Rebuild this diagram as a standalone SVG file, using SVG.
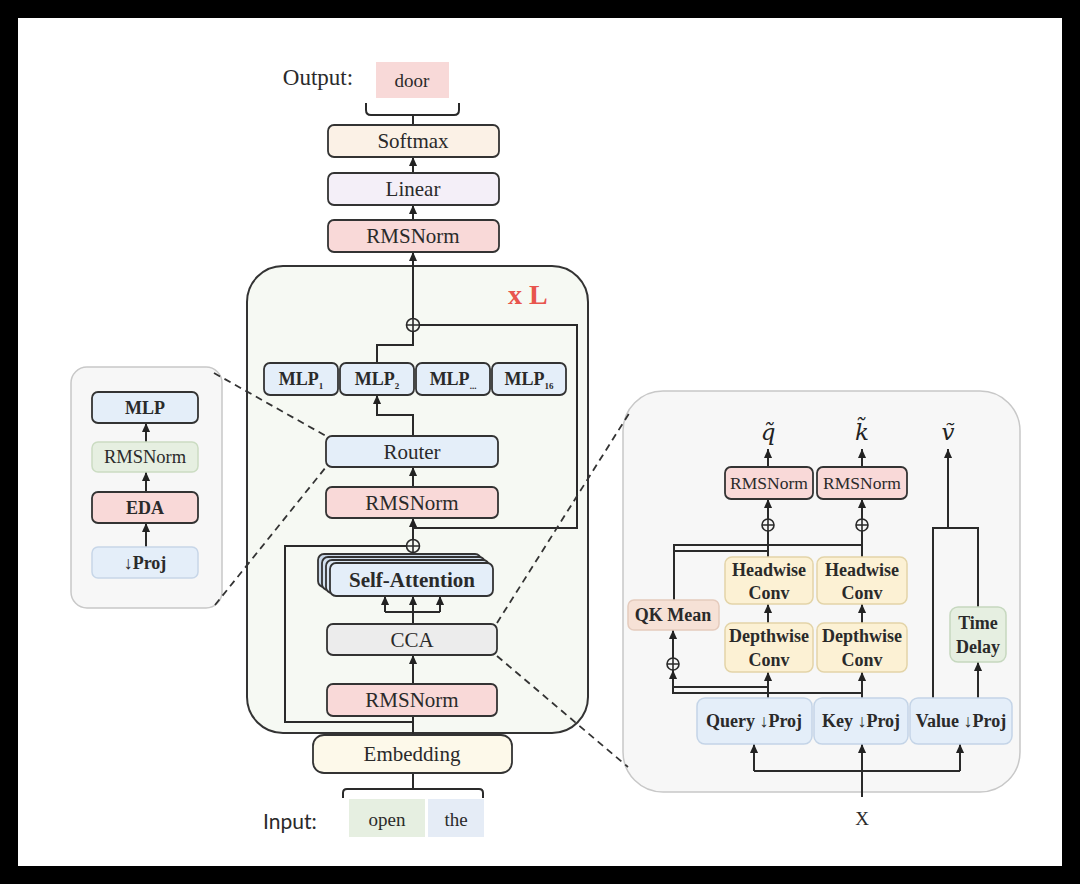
<svg xmlns="http://www.w3.org/2000/svg" width="1080" height="884" viewBox="0 0 1080 884">
<defs>
<marker id="ah" viewBox="0 0 10 10" refX="10" refY="5" markerWidth="9" markerHeight="9" markerUnits="userSpaceOnUse" orient="auto">
<path d="M0,0.5 L10,5 L0,9.5 z" fill="#222"/>
</marker>
<style>
.t{font-family:"Liberation Serif",serif;fill:#2a2a2a;text-anchor:middle;dominant-baseline:central}
.b{font-weight:bold}
.box{stroke:#333;stroke-width:1.8}
.lbox{stroke-width:1.5}
.ln{fill:none;stroke:#2a2a2a;stroke-width:2}
.arr{fill:none;stroke:#2a2a2a;stroke-width:2;marker-end:url(#ah)}
.dash{fill:none;stroke:#333;stroke-width:1.8;stroke-dasharray:7 5}
.plus{fill:none;stroke:#2a2a2a;stroke-width:1.6}
.pink{fill:#f9d9d8}
.blue{fill:#e4eef9}
.green{fill:#e6efe1}
.yel{fill:#fcf1d4;stroke:#e3d4a8}
.math{font-family:"DejaVu Serif",serif;font-style:italic;font-size:23px;fill:#222;text-anchor:middle;dominant-baseline:central}
</style>
</defs>
<rect x="0" y="0" width="1080" height="884" fill="#000"/>
<rect x="18" y="18" width="1044" height="848" fill="#fff"/>

<!-- containers -->
<g id="block">
<rect x="247" y="266" width="341" height="467" rx="36" fill="#f6f9f3" stroke="#333" stroke-width="2"/>
<text x="508" y="294" font-family="Liberation Serif,serif" font-weight="bold" font-size="28" fill="#e8554d" dominant-baseline="central">x L</text>
</g>
<g id="left-panel">
<rect x="71" y="367" width="151" height="241" rx="16" fill="#f7f7f7" stroke="#c8c8c8" stroke-width="1.5"/>
</g>
<g id="right-panel">
<rect x="623" y="391" width="397" height="401" rx="40" fill="#f7f7f7" stroke="#c8c8c8" stroke-width="1.5"/>
</g>

<g id="connectors">
<path class="ln" d="M366,103 V110 Q366,115 371,115 H454 Q459,115 459,110 V103 M413,115 V125"/>
<path class="arr" d="M413,173 V157"/>
<path class="arr" d="M413,220 V205"/>
<path class="arr" d="M413,318 V252"/>
<path class="ln" d="M420,325 H577 V528 H413"/>
<path class="ln" d="M413,332 V345 H377 V363"/>
<path class="arr" d="M413,436 V415 H377 V395"/>
<path class="arr" d="M413,487 V467"/>
<path class="arr" d="M413,539 V518"/>
<path class="ln" d="M406,546 H285 V722 H413"/>
<path class="ln" d="M413,563 V553"/>
<path class="ln" d="M413,624 V612 M385,612 H440"/>
<path class="arr" d="M385,612 V596"/>
<path class="arr" d="M413,612 V596"/>
<path class="arr" d="M440,612 V596"/>
<path class="arr" d="M413,684 V655"/>
<path class="ln" d="M413,735 V716"/>
<path class="ln" d="M343,798 V793 Q343,789 347,789 H479 Q483,789 483,793 V798 M413,789 V773"/>
<!-- left panel -->
<path class="arr" d="M146,442 V423"/>
<path class="arr" d="M146,492 V472"/>
<path class="arr" d="M146,547 V523"/>
<!-- right panel -->
<path class="arr" d="M768,467 V449"/>
<path class="arr" d="M862,467 V449"/>
<path class="arr" d="M948,528 V449"/>
<path class="arr" d="M768,519 V499"/>
<path class="arr" d="M862,519 V499"/>
<path class="ln" d="M768,531 V557 M862,531 V557"/>
<path class="ln" d="M862,545 H674 V600 M768,551 H674"/>
<path class="arr" d="M768,623 V604"/>
<path class="arr" d="M862,623 V604"/>
<path class="arr" d="M768,698 V672"/>
<path class="arr" d="M862,698 V672"/>
<path class="arr" d="M673,658 V630"/>
<path class="arr" d="M862,693 H673 V670"/>
<path class="ln" d="M768,687 H673"/>
<path class="arr" d="M978,698 V662"/>
<path class="ln" d="M933,698 V528 H978 V607"/>
<path class="arr" d="M862,797 V744"/>
<path class="ln" d="M754,771 H960"/>
<path class="arr" d="M754,771 V744"/>
<path class="arr" d="M960,771 V744"/>
</g>

<!-- top output -->
<g id="output">
<text class="t" x="318" y="77" font-size="23">Output:</text>
<rect x="376" y="62" width="73" height="36" fill="#f8d9d8"/>
<text class="t" x="412" y="80" font-size="19">door</text>
</g>
<g id="softmax"><rect class="box" x="328" y="125" width="171" height="32" rx="6" fill="#fbf1e6"/><text class="t" x="413" y="141" font-size="21">Softmax</text></g>
<g id="linear"><rect class="box" x="328" y="173" width="171" height="32" rx="6" fill="#f4eff8"/><text class="t" x="413" y="189" font-size="21">Linear</text></g>
<g id="rmsnorm-top"><rect class="box pink" x="328" y="220" width="171" height="32" rx="6"/><text class="t" x="413" y="236" font-size="21">RMSNorm</text></g>

<g id="plus1"><circle class="plus" cx="413" cy="325" r="6.5" fill="#f6f9f3"/><path class="plus" d="M406.5,325 H419.5 M413,318.5 V331.5"/></g>
<g id="plus2"><circle class="plus" cx="413" cy="546" r="6.5"/><path class="plus" d="M406.5,546 H419.5 M413,539.5 V552.5"/></g>

<g id="mlp1"><rect class="box blue" x="264" y="363" width="74" height="32" rx="6"/>
<text class="t b" x="301" y="379" font-size="18">MLP<tspan dy="7" font-size="9">1</tspan></text></g>
<g id="mlp2"><rect class="box blue" x="340" y="363" width="74" height="32" rx="6"/>
<text class="t b" x="377" y="379" font-size="18">MLP<tspan dy="7" font-size="9">2</tspan></text></g>
<g id="mlp3"><rect class="box blue" x="416" y="363" width="74" height="32" rx="6"/>
<text class="t b" x="453" y="379" font-size="18">MLP<tspan dy="7" font-size="9">...</tspan></text></g>
<g id="mlp16"><rect class="box blue" x="492" y="363" width="74" height="32" rx="6"/>
<text class="t b" x="529" y="379" font-size="18">MLP<tspan dy="7" font-size="9">16</tspan></text></g>
<g id="router"><rect class="box blue" x="326" y="436" width="172" height="31" rx="6"/><text class="t" x="412" y="452" font-size="21">Router</text></g>
<g id="rmsnorm-mid"><rect class="box pink" x="326" y="487" width="172" height="31" rx="6"/><text class="t" x="412" y="503" font-size="21">RMSNorm</text></g>
<g id="self-attention">
<rect class="box" x="318" y="554" width="163" height="33" rx="6" fill="#c9d7e7"/>
<rect class="box" x="322" y="557" width="163" height="33" rx="6" fill="#d3e0ee"/>
<rect class="box" x="326" y="560" width="163" height="33" rx="6" fill="#dbe6f3"/>
<rect class="box blue" x="330" y="563" width="163" height="33" rx="6"/>
<text class="t b" x="412" y="580" font-size="21">Self-Attention</text>
</g>
<g id="cca"><rect class="box" x="327" y="624" width="170" height="31" rx="6" fill="#ececec"/><text class="t" x="412" y="640" font-size="21">CCA</text></g>
<g id="rmsnorm-low"><rect class="box pink" x="327" y="684" width="170" height="32" rx="6"/><text class="t" x="412" y="700" font-size="21">RMSNorm</text></g>
<g id="embedding"><rect class="box" x="313" y="735" width="199" height="38" rx="11" fill="#fdf9ea"/><text class="t" x="412" y="754" font-size="21">Embedding</text></g>

<g id="input">
<text x="263" y="820" font-family="Lato,'Open Sans',sans-serif" font-size="21" fill="#2a2a2a" dominant-baseline="central">Input:</text>
<rect x="349" y="799" width="76" height="38" fill="#e6efe1"/>
<text class="t" x="387" y="819" font-size="19">open</text>
<rect x="428" y="799" width="56" height="38" fill="#e5ecf6"/>
<text class="t" x="456" y="819" font-size="19">the</text>
</g>

<!-- left panel nodes -->
<g id="lp-mlp"><rect class="box blue" x="92" y="392" width="106" height="31" rx="6"/>
<text class="t b" x="145" y="408" font-size="18">MLP</text></g>
<g id="lp-rmsnorm"><rect class="lbox green" x="92" y="442" width="106" height="30" rx="6" stroke="#cbdcc2"/>
<text class="t" x="145" y="457" font-size="18.5">RMSNorm</text></g>
<g id="lp-eda"><rect class="box pink" x="92" y="492" width="106" height="31" rx="6"/>
<text class="t b" x="145" y="508" font-size="18">EDA</text></g>
<g id="lp-proj"><rect class="lbox blue" x="92" y="547" width="106" height="31" rx="6" stroke="#c7d6e8"/>
<text class="t b" x="145" y="563" font-size="18">↓Proj</text></g>

<!-- right panel nodes -->
<g id="rp-outputs">
<text class="math" x="768" y="432">q̃</text>
<text class="math" x="862" y="432">k̃</text>
<text class="math" x="948" y="432">ṽ</text>
</g>
<g id="rp-rmsnorm-q"><rect class="box pink" x="725" y="467" width="88" height="32" rx="6"/>
<text class="t" x="769" y="483" font-size="17.5">RMSNorm</text></g>
<g id="rp-rmsnorm-k"><rect class="box pink" x="817" y="467" width="90" height="32" rx="6"/>
<text class="t" x="862" y="483" font-size="17.5">RMSNorm</text></g>
<g id="rp-plus-q"><circle class="plus" cx="768" cy="525" r="6" fill="#f7f7f7"/><path class="plus" d="M762,525 H774 M768,519 V531"/></g>
<g id="rp-plus-k"><circle class="plus" cx="862" cy="525" r="6" fill="#f7f7f7"/><path class="plus" d="M856,525 H868 M862,519 V531"/></g>
<g id="rp-head-q"><rect class="lbox yel" x="725" y="557" width="88" height="47" rx="7"/>
<text class="t b" x="769" y="570" font-size="18">Headwise</text>
<text class="t b" x="769" y="593" font-size="18">Conv</text></g>
<g id="rp-head-k"><rect class="lbox yel" x="817" y="557" width="90" height="47" rx="7"/>
<text class="t b" x="862" y="570" font-size="18">Headwise</text>
<text class="t b" x="862" y="593" font-size="18">Conv</text></g>
<g id="rp-depth-q"><rect class="lbox yel" x="725" y="623" width="88" height="49" rx="7"/>
<text class="t b" x="769" y="636" font-size="18">Depthwise</text>
<text class="t b" x="769" y="660" font-size="18">Conv</text></g>
<g id="rp-depth-k"><rect class="lbox yel" x="817" y="623" width="90" height="49" rx="7"/>
<text class="t b" x="862" y="636" font-size="18">Depthwise</text>
<text class="t b" x="862" y="660" font-size="18">Conv</text></g>
<g id="rp-qkmean"><rect class="lbox" x="628" y="600" width="91" height="30" rx="6" fill="#f6e1d6" stroke="#e5cbbd"/>
<text class="t b" x="673" y="615" font-size="18">QK Mean</text></g>
<g id="rp-plus-qk"><circle class="plus" cx="673" cy="664" r="6" fill="#f7f7f7"/><path class="plus" d="M667,664 H679 M673,658 V670"/></g>
<g id="rp-timedelay"><rect class="lbox" x="950" y="607" width="56" height="55" rx="8" fill="#e6efe1" stroke="#c6d8bf"/>
<text class="t b" x="978" y="623" font-size="18">Time</text>
<text class="t b" x="978" y="647" font-size="18">Delay</text></g>
<g id="rp-query"><rect class="lbox blue" x="697" y="698" width="115" height="46" rx="8" stroke="#c4d4e7"/>
<text class="t b" x="754" y="721" font-size="18">Query ↓Proj</text></g>
<g id="rp-key"><rect class="lbox blue" x="814" y="698" width="94" height="46" rx="8" stroke="#c4d4e7"/>
<text class="t b" x="861" y="721" font-size="18">Key ↓Proj</text></g>
<g id="rp-value"><rect class="lbox blue" x="910" y="698" width="102" height="46" rx="8" stroke="#c4d4e7"/>
<text class="t b" x="961" y="721" font-size="18">Value ↓Proj</text></g>
<g id="rp-x"><text class="t" x="862" y="818" font-size="19">X</text></g>

<g id="zoom-lines">
<path class="dash" d="M214,373 L326,436"/>
<path class="dash" d="M215,605 L326,467"/>
<path class="dash" d="M497,623 L630,412"/>
<path class="dash" d="M497,656 L628,767"/>
</g>
</svg>
